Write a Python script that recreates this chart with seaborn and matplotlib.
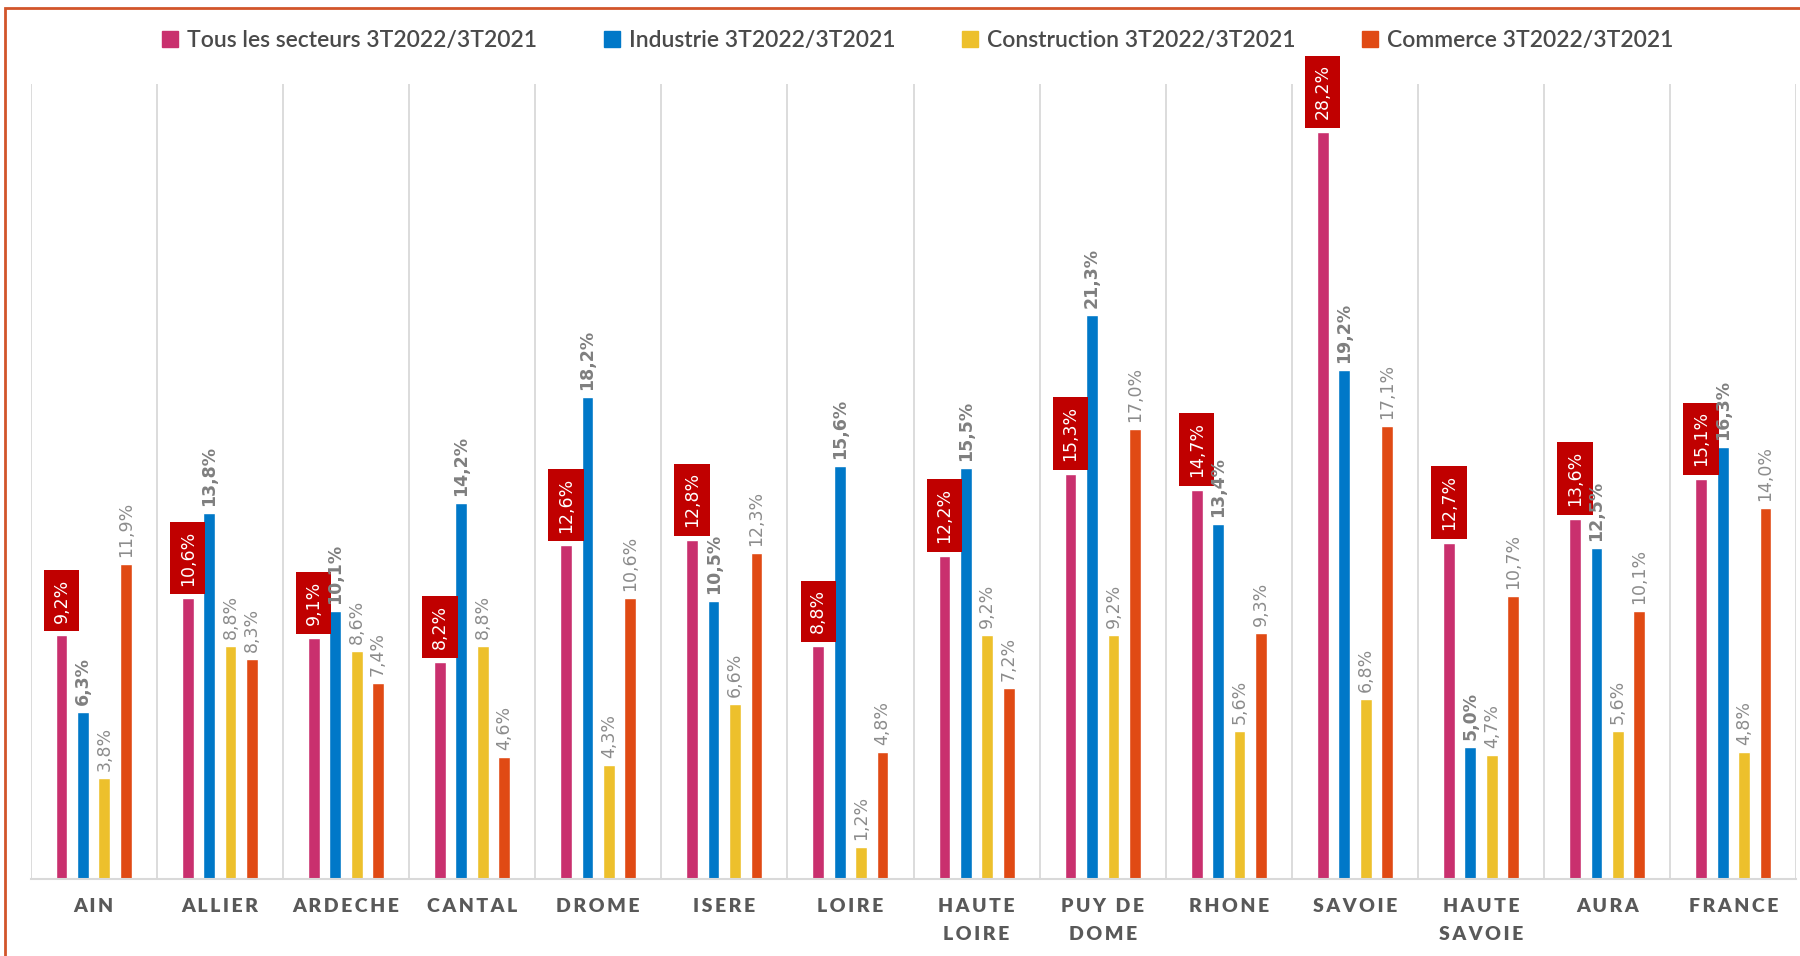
# graphique évolution par secteur 3T2022/3T2021
import pandas as pd
import numpy as np
import matplotlib.pyplot as plt
import matplotlib.patches as mpatches
import seaborn as sns

# donnees
territoires = ['AIN', 'ALLIER', 'ARDECHE', 'CANTAL', 'DROME', 'ISERE', 'LOIRE',
               'HAUTE\nLOIRE', 'PUY DE\nDOME', 'RHONE', 'SAVOIE', 'HAUTE\nSAVOIE',
               'AURA', 'FRANCE']
series = ['Tous les secteurs 3T2022/3T2021', 'Industrie 3T2022/3T2021',
          'Construction 3T2022/3T2021', 'Commerce 3T2022/3T2021']
tous = [9.2, 10.6, 9.1, 8.2, 12.6, 12.8, 8.8, 12.2, 15.3, 14.7, 28.2, 12.7, 13.6, 15.1]
industrie = [6.3, 13.8, 10.1, 14.2, 18.2, 10.5, 15.6, 15.5, 21.3, 13.4, 19.2, 5.0, 12.5, 16.3]
construction = [3.8, 8.8, 8.6, 8.8, 4.3, 6.6, 1.2, 9.2, 9.2, 5.6, 6.8, 4.7, 5.6, 4.8]
commerce = [11.9, 8.3, 7.4, 4.6, 10.6, 12.3, 4.8, 7.2, 17.0, 9.3, 17.1, 10.7, 10.1, 14.0]
couleurs = ['#C9306E', '#0078C8', '#EDC02C', '#E04A14']

df = pd.DataFrame({'territoire': territoires * 4,
                   'serie': np.repeat(series, len(territoires)),
                   'valeur': tous + industrie + construction + commerce})

sns.set_style('white')
plt.rcParams['font.family'] = ['DejaVu Sans']

fig = plt.figure(figsize=(18, 9.56), dpi=100)
ax = fig.add_axes([0.017, 0.0805, 0.981, 0.8315])

sns.barplot(data=df, x='territoire', y='valeur', hue='serie', palette=couleurs,
            order=territoires, hue_order=series, width=0.68, gap=0.45,
            saturation=1, legend=False, ax=ax)

ax.set_ylim(0, 30)
ax.set_xlim(-0.5, len(territoires) - 0.5)
ax.set_yticks([])
ax.set_xlabel('')
ax.set_ylabel('')
for s in ['top', 'right', 'left']:
    ax.spines[s].set_visible(False)
ax.spines['bottom'].set_color('#D9D9D9')
ax.spines['bottom'].set_linewidth(1.5)

# separateurs entre territoires
ax.set_xticks(np.arange(-0.5, len(territoires)), minor=True)
ax.grid(True, axis='x', which='minor', color='#D9D9D9', linewidth=1.3)
ax.grid(False, axis='x', which='major')
ax.tick_params(axis='x', which='both', length=0, pad=14)

# libelles espaces comme dans l'original
def espacer(txt):
    return '\n'.join('\u2009'.join(ligne) for ligne in txt.split('\n'))

ax.set_xticks(range(len(territoires)))
ax.set_xticklabels([espacer(t) for t in territoires], fontsize=14, fontweight='heavy',
                   color='#595959', family=['Lato', 'DejaVu Sans'],
                   linespacing=1.75, va='top')

# etiquettes de valeurs
fmt = lambda v: f'{v:.1f}%'.replace('.', ',')
valeurs = [tous, industrie, construction, commerce]
for i, cont in enumerate(ax.containers):
    labels = [fmt(v) for v in valeurs[i]]
    if i == 0:
        ax.bar_label(cont, labels=labels, rotation=90, padding=9, color='white',
                     fontsize=12.5,
                     bbox=dict(boxstyle='square,pad=0.5', facecolor='#C00000',
                               edgecolor='none'))
    elif i == 1:
        ax.bar_label(cont, labels=labels, rotation=90, padding=5, color='#7F7F7F',
                     fontsize=12.5, fontweight='bold')
    else:
        ax.bar_label(cont, labels=labels, rotation=90, padding=5, color='#8C8C8C',
                     fontsize=12.5)

# legende
handles = [mpatches.Patch(color=c, label=s) for c, s in zip(couleurs, series)]
fig.legend(handles=handles, loc='center', bbox_to_anchor=(0.51, 0.958), ncol=4,
           frameon=False, prop={'family': 'Lato', 'size': 16.5, 'weight': 'semibold'},
           labelcolor='#4A4A4A', handlelength=0.7, handleheight=0.7,
           handletextpad=0.4, columnspacing=2.9)

# cadre
fig.patches.append(mpatches.Rectangle((0.003, -0.02), 1.05, 1.02 - 8 / 956,
                                      transform=fig.transFigure, fill=False,
                                      edgecolor='#D2552A', linewidth=2))

fig.savefig('out.png', dpi=100)
